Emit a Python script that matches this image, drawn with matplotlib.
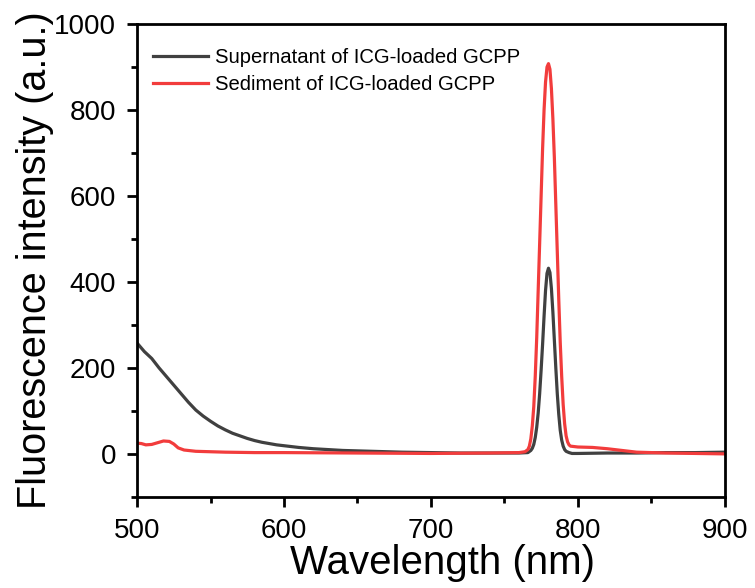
import matplotlib
matplotlib.use("Agg")
import matplotlib.pyplot as plt
from matplotlib.ticker import MultipleLocator

plt.rcParams['font.family'] = ['Liberation Sans', 'DejaVu Sans']

# Supernatant of ICG-loaded GCPP (gray)
sup_wl = [500, 502, 505, 510, 515, 520, 525, 530, 535, 540, 545, 550, 555, 560, 565, 570,
          575, 580, 585, 590, 595, 600, 610, 620, 630, 640, 650, 660, 670, 680, 700, 720,
          740, 760, 766, 768, 769, 770, 771, 772, 773, 774, 775, 776, 777, 778, 779, 780,
          781, 782, 783, 784, 785, 786, 787, 788, 789, 790, 791, 792, 794, 796, 800, 820,
          840, 860, 880, 900]
sup_val = [258, 250, 238, 222, 200, 180, 160, 140, 120, 102, 88, 76, 65, 56, 48, 42,
           36, 31, 27, 24, 21, 19, 15, 12, 10, 8, 7, 6, 5, 4, 3, 2,
           2, 2, 3, 8, 13, 22, 38, 62, 95, 140, 195, 255, 320, 380, 420, 432,
           422, 385, 330, 265, 200, 140, 92, 55, 32, 18, 10, 6, 3, 1, 1, 2,
           2, 3, 3, 4]

# Sediment of ICG-loaded GCPP (red)
sed_wl = [500, 503, 506, 510, 514, 518, 522, 525, 528, 532, 540, 550, 560, 580, 600, 650,
          700, 740, 760, 764, 766, 767, 768, 769, 770, 771, 772, 773, 774, 775, 776, 777,
          778, 779, 780, 781, 782, 783, 784, 785, 786, 787, 788, 789, 790, 791, 792, 793,
          794, 795, 800, 810, 820, 830, 840, 860, 880, 900]
sed_val = [25, 24, 21, 22, 26, 30, 29, 23, 14, 9, 6, 5, 4, 3, 3, 2,
           1, 2, 3, 5, 10, 18, 35, 65, 110, 180, 270, 380, 490, 600, 710, 800,
           865, 900, 908, 895, 850, 780, 690, 580, 470, 360, 260, 180, 115, 70, 42, 28,
           21, 18, 16, 15, 12, 8, 4, 2, 1, 0]

labels = ["Supernatant of ICG-loaded GCPP", "Sediment of ICG-loaded GCPP"]
x_ticks = [500, 600, 700, 800, 900]
y_ticks = [0, 200, 400, 600, 800, 1000]

fig = plt.figure(figsize=(7.55, 5.88), dpi=100)
ax = fig.add_axes([0.1815, 0.155, 0.7785, 0.804])

ax.plot(sup_wl, sup_val, color='#404040', lw=2.3, label=labels[0])
ax.plot(sed_wl, sed_val, color='#f23c3c', lw=2.3, label=labels[1])

ax.set_xlim(500, 900)
ax.set_ylim(-100, 1000)
ax.set_xticks(x_ticks)
ax.set_yticks(y_ticks)
ax.xaxis.set_minor_locator(MultipleLocator(50))
ax.yaxis.set_minor_locator(MultipleLocator(100))
ax.tick_params(axis='both', which='major', direction='out', length=7, width=2,
               labelsize=20, pad=8, top=False, right=False)
ax.tick_params(axis='both', which='minor', direction='out', length=4, width=2,
               top=False, right=False)
for s in ax.spines.values():
    s.set_linewidth(2)

ax.set_xlabel("Wavelength (nm)", fontsize=29, labelpad=0)
ax.xaxis.set_label_coords(0.52, -0.10, transform=ax.transAxes)
ax.xaxis.label.set_va('top')
ax.set_ylabel("Fluorescence intensity (a.u.)", fontsize=28.5, labelpad=0)

ax.legend(loc='upper left', frameon=False, fontsize=14.6, handlelength=2.7,
          handletextpad=0.35, borderaxespad=0.0, borderpad=0.4, labelspacing=0.4,
          bbox_to_anchor=(0.0136, 0.966))

fig.savefig("out.png", dpi=100)
